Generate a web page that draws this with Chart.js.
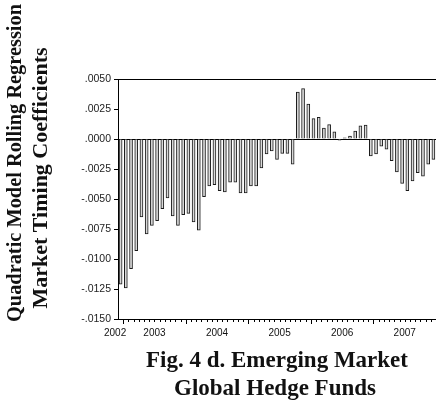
<!DOCTYPE html>
<html>
<head>
<meta charset="utf-8">
<script src="https://cdn.jsdelivr.net/npm/chart.js@4.4.1/dist/chart.umd.min.js"></script>
<style>
  html, body { margin: 0; padding: 0; background: #fff; }
  #wrap { width: 436px; height: 408px; }
</style>
</head>
<body>
<div id="wrap"><canvas id="timingChart" width="436" height="408"></canvas></div>
<script>
// monthly observations, Dec 2002 - Dec 2007
const months = [
  '2002-12',
  '2003-01', '2003-02', '2003-03', '2003-04', '2003-05', '2003-06',
  '2003-07', '2003-08', '2003-09', '2003-10', '2003-11', '2003-12',
  '2004-01', '2004-02', '2004-03', '2004-04', '2004-05', '2004-06',
  '2004-07', '2004-08', '2004-09', '2004-10', '2004-11', '2004-12',
  '2005-01', '2005-02', '2005-03', '2005-04', '2005-05', '2005-06',
  '2005-07', '2005-08', '2005-09', '2005-10', '2005-11', '2005-12',
  '2006-01', '2006-02', '2006-03', '2006-04', '2006-05', '2006-06',
  '2006-07', '2006-08', '2006-09', '2006-10', '2006-11', '2006-12',
  '2007-01', '2007-02', '2007-03', '2007-04', '2007-05', '2007-06',
  '2007-07', '2007-08', '2007-09', '2007-10', '2007-11', '2007-12'
];

// rolling-regression timing coefficients
const coefficients = [
  -0.0121,
  -0.0124, -0.0108, -0.0093, -0.0065, -0.0079, -0.0072,
  -0.0068, -0.0058, -0.0049, -0.0064, -0.0072, -0.0063,
  -0.0062, -0.0069, -0.0076, -0.0048, -0.0039, -0.0038,
  -0.0043, -0.0044, -0.0036, -0.0036, -0.0045, -0.0045,
  -0.0039, -0.0039, -0.0024, -0.00125, -0.0010, -0.0017,
  -0.0012, -0.0012, -0.0021, 0.0039, 0.0042, 0.0029,
  0.0017, 0.0018, 0.0009, 0.0012, 0.0006, -0.0001,
  0.0001, 0.00025, 0.00065, 0.0011, 0.00115, -0.0014,
  -0.00125, -0.0006, -0.00085, -0.0018, -0.00275, -0.0037,
  -0.0043, -0.0035, -0.0028, -0.0031, -0.0021, -0.0017
];

const yearLabels = ['2002', '2003', '2004', '2005', '2006', '2007'];
const yMin = -0.0150;
const yMax = 0.0050;
const yStep = 0.0025;

const axisTitle = ['Quadratic Model Rolling Regression', 'Market Timing Coefficients'];
const caption = ['Fig. 4 d. Emerging Market', 'Global Hedge Funds'];

const SERIF = '"Liberation Serif", "Times New Roman", serif';
const SANS = '"Liberation Sans", Arial, sans-serif';

// ".0050" / "-.0025" style
function formatTick(v) {
  const s = Math.abs(v).toFixed(4).replace(/^0/, '');
  return (v < -1e-9 ? '-' : '') + s;
}

function isFrameLine(v) {
  return Math.abs(v) < 1e-9 || Math.abs(v - yMax) < 1e-9;
}

// month ticks along the bottom, year labels centred under each year
const yearAxis = {
  id: 'yearAxis',
  afterDraw(chart) {
    const { ctx, chartArea } = chart;
    const x = chart.scales.x;
    const half = (x.getPixelForValue(1) - x.getPixelForValue(0)) / 2;
    const edge = i => x.getPixelForValue(i) - half;
    const bottom = chartArea.bottom;

    ctx.save();
    ctx.strokeStyle = '#000';
    ctx.lineWidth = 1;
    ctx.beginPath();
    for (let i = 1; i < months.length; i++) {
      const px = Math.round(edge(i)) + 0.5;
      const len = months[i].endsWith('-01') ? 5 : 3;
      ctx.moveTo(px, bottom);
      ctx.lineTo(px, bottom + len);
    }
    ctx.stroke();

    ctx.font = '10px ' + SANS;
    ctx.fillStyle = '#111';
    ctx.textBaseline = 'alphabetic';
    const labelY = bottom + 17;
    yearLabels.forEach(year => {
      const idx = [];
      months.forEach((m, i) => { if (m.startsWith(year)) idx.push(i); });
      const left = edge(idx[0]);
      const right = edge(idx[idx.length - 1] + 1);
      const w = ctx.measureText(year).width;
      if (right - left < w) {
        ctx.textAlign = 'right';
        ctx.fillText(year, right + 3, labelY);
      } else {
        ctx.textAlign = 'center';
        ctx.fillText(year, (left + right) / 2, labelY);
      }
    });
    ctx.restore();
  }
};

// rotated axis title on the left and figure caption underneath
const textBlocks = {
  id: 'textBlocks',
  afterDraw(chart) {
    const { ctx } = chart;
    ctx.save();
    ctx.fillStyle = '#111';
    ctx.font = 'bold 22px ' + SERIF;
    ctx.textAlign = 'center';
    ctx.textBaseline = 'alphabetic';

    const titleLines = [
      { text: axisTitle[0], x: 20.5, y: 163, max: 318 },
      { text: axisTitle[1], x: 46.5, y: 178, max: 270 }
    ];
    titleLines.forEach(l => {
      ctx.save();
      ctx.translate(l.x, l.y);
      ctx.rotate(-Math.PI / 2);
      ctx.fillText(l.text, 0, 0, l.max);
      ctx.restore();
    });

    ctx.font = 'bold 23px ' + SERIF;
    ctx.fillText(caption[0], 277, 367);
    ctx.fillText(caption[1], 275, 395);
    ctx.restore();
  }
};

Chart.defaults.font.family = SANS;
Chart.defaults.color = '#222';

new Chart(document.getElementById('timingChart'), {
  type: 'bar',
  data: {
    labels: months,
    datasets: [{
      data: coefficients,
      backgroundColor: '#d9d9d9',
      borderColor: '#1a1a1a',
      borderWidth: 1,
      barThickness: 3
    }]
  },
  options: {
    responsive: false,
    animation: false,
    devicePixelRatio: 1,
    layout: { padding: { top: 79, right: 0, bottom: 69, left: 0 } },
    plugins: {
      legend: { display: false },
      tooltip: { enabled: false },
      title: { display: false }
    },
    scales: {
      x: {
        offset: true,
        grid: { display: false },
        ticks: { display: false },
        border: { display: true, color: '#000', width: 1 },
        afterFit(scale) { scale.height = 20; }
      },
      y: {
        min: yMin,
        max: yMax,
        z: 1,
        ticks: {
          stepSize: yStep,
          padding: 3,
          font: { size: 10.5 },
          color: '#222',
          callback: v => formatTick(v)
        },
        grid: {
          color: ctx => isFrameLine(ctx.tick.value) ? '#000' : 'rgba(0,0,0,0)',
          lineWidth: 1,
          tickColor: '#000',
          tickLength: 4
        },
        border: { display: true, color: '#000', width: 1 },
        afterFit(scale) { scale.width = 118; }
      }
    }
  },
  plugins: [yearAxis, textBlocks]
});
</script>
</body>
</html>
